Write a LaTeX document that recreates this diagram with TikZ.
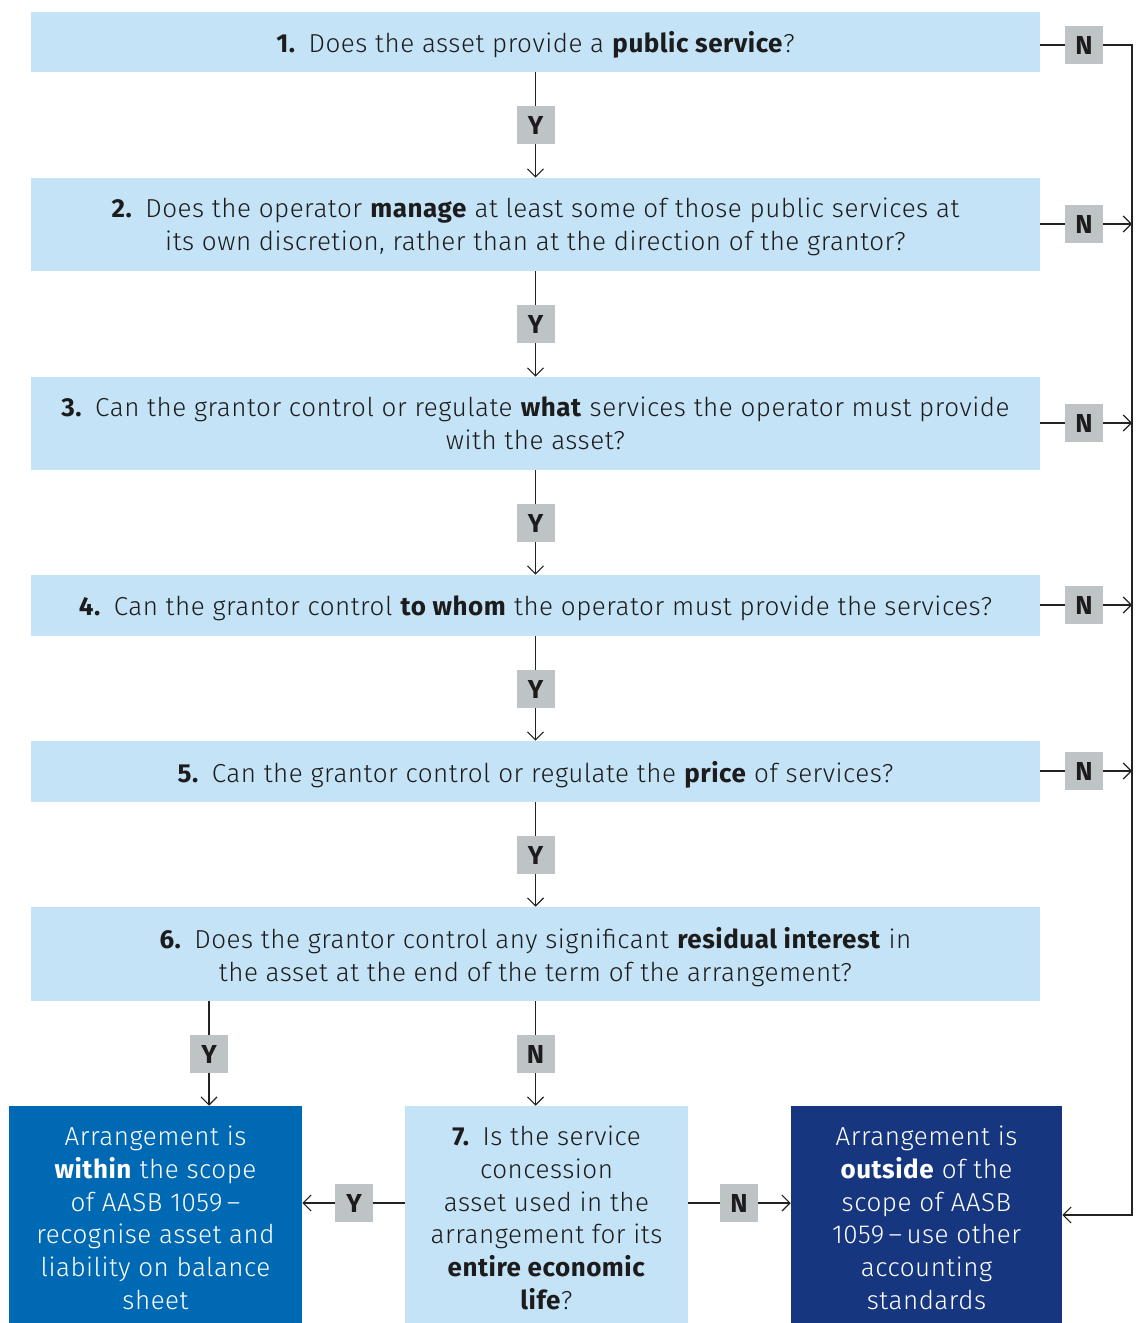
\documentclass[tikz,border=0pt]{standalone}
\usepackage{fontspec}
\setmainfont{Fira Sans}[UprightFont=* Light, BoldFont=* Bold, LetterSpace=2]
\usetikzlibrary{arrows.meta}
\definecolor{qblue}{HTML}{C5E3F6}
\definecolor{lgrey}{HTML}{BEC3C6}
\definecolor{inblue}{HTML}{0069B4}
\definecolor{navy}{HTML}{163780}
\definecolor{txt}{HTML}{1C1C1C}
\definecolor{lc}{HTML}{222222}
\newcommand{\lowstrut}{\rule{0pt}{19.5pt}}
\begin{document}
\begin{tikzpicture}[x=0.75pt,y=-0.75pt,
  box/.style={fill=qblue, inner sep=0pt, align=center, text=txt, text depth=0pt,
    font=\fontsize{19.5}{24.7}\selectfont},
  endbox/.style={inner sep=0pt, align=center, text=white, text depth=0pt,
    font=\fontsize{19.5}{24.6}\selectfont},
  lab/.style={fill=lgrey, minimum size=38*0.75pt, inner sep=0pt, text=txt,
    font=\fontsize{19.5}{20}\selectfont\bfseries},
  ln/.style={draw=lc, line width=1.1pt},
  arr/.style={draw=lc, line width=1.1pt, -{Straight Barb[length=6pt,width=12pt,line width=0.9pt]}}]
\useasboundingbox (0,0) rectangle (1137,1323);

% question boxes
\node[box, minimum width=1009*0.75pt, minimum height=60*0.75pt] (q1) at (535.5,42)
  {\textbf{1.}\enspace Does the asset provide a \textbf{public service}?};
\node[box, minimum width=1009*0.75pt, minimum height=93*0.75pt] (q2) at (535.5,224.5)
  {\textbf{2.}\enspace Does the operator \textbf{manage} at least some of those public services at\\its own discretion, rather than at the direction of the grantor?};
\node[box, minimum width=1009*0.75pt, minimum height=93*0.75pt] (q3) at (535.5,423.5)
  {\textbf{3.}\enspace Can the grantor control or regulate \textbf{what} services the operator must provide\\with the asset?};
\node[box, minimum width=1009*0.75pt, minimum height=61*0.75pt] (q4) at (535.5,605.5)
  {\textbf{4.}\enspace Can the grantor control \textbf{to whom} the operator must provide the services?};
\node[box, minimum width=1009*0.75pt, minimum height=61*0.75pt] (q5) at (535.5,771.5)
  {\textbf{5.}\enspace Can the grantor control or regulate the \textbf{price} of services?};
\node[box, minimum width=1009*0.75pt, minimum height=94*0.75pt] (q6) at (535.5,954)
  {\textbf{6.}\enspace Does the grantor control any significant \textbf{residual interest} in\\the asset at the end of the term of the arrangement?};

% bottom boxes
\node[endbox, fill=inblue, minimum width=293*0.75pt, minimum height=217*0.75pt] (within) at (155.5,1214.5)
  {\lowstrut Arrangement is\\\textbf{within} the scope\\of AASB 1059\,–\\recognise asset and\\liability on balance\\sheet};
\node[box, minimum width=283*0.75pt, minimum height=217*0.75pt, font=\fontsize{19.5}{24.6}\selectfont] (q7) at (546.5,1214.5)
  {\lowstrut\textbf{7.}\enspace Is the service\\concession\\asset used in the\\arrangement for its\\\textbf{entire economic}\\\textbf{life}?};
\node[endbox, fill=navy, minimum width=271*0.75pt, minimum height=217*0.75pt] (outside) at (926.5,1214.5)
  {\lowstrut Arrangement is\\\textbf{outside} of the\\scope of AASB\\1059\,–\,use other\\accounting\\standards};

% Y labels down the middle
\node[lab] (y1) at (535.5,125) {Y};
\node[lab] (y2) at (535.5,324) {Y};
\node[lab] (y3) at (535.5,523) {Y};
\node[lab] (y4) at (535.5,689) {Y};
\node[lab] (y5) at (535.5,855) {Y};
\node[lab] (y6) at (209,1054) {Y};
\node[lab] (n6) at (535.5,1054) {N};
\node[lab] (y7) at (354,1203) {Y};
\node[lab] (n7) at (739,1203) {N};

% N labels on the right
\node[lab] (n1) at (1084,45) {N};
\node[lab] (n2) at (1084,224) {N};
\node[lab] (n3) at (1084,423) {N};
\node[lab] (n4) at (1084,605) {N};
\node[lab] (n5) at (1084,771) {N};
\coordinate (rtop) at (1132,45);
\coordinate (rbot) at (1132,1215);

% Y connectors
\draw[ln] (q1) -- (y1); \draw[arr] (y1) -- (q2);
\draw[ln] (q2) -- (y2); \draw[arr] (y2) -- (q3);
\draw[ln] (q3) -- (y3); \draw[arr] (y3) -- (q4);
\draw[ln] (q4) -- (y4); \draw[arr] (y4) -- (q5);
\draw[ln] (q5) -- (y5); \draw[arr] (y5) -- (q6);
\draw[ln] (q6.south -| y6) -- (y6); \draw[arr] (y6) -- (y6 |- within.north);
\draw[ln] (q6) -- (n6); \draw[arr] (n6) -- (n6 |- q7.north);
\draw[ln] (q7.west |- y7) -- (y7); \draw[arr] (y7) -- (y7 -| within.east);
\draw[ln] (q7.east |- n7) -- (n7); \draw[arr] (n7) -- (n7 -| outside.west);

% N connectors
\draw[ln] (q1.east |- n1) -- (n1);
\draw[arr] (n1) -- (rtop) -- (rbot) -- (rbot -| outside.east);
\foreach \i in {2,3,4,5} {
  \draw[ln] (q\i.east |- n\i) -- (n\i);
  \draw[arr] (n\i) -- (n\i -| rtop);
}
\end{tikzpicture}
\end{document}
